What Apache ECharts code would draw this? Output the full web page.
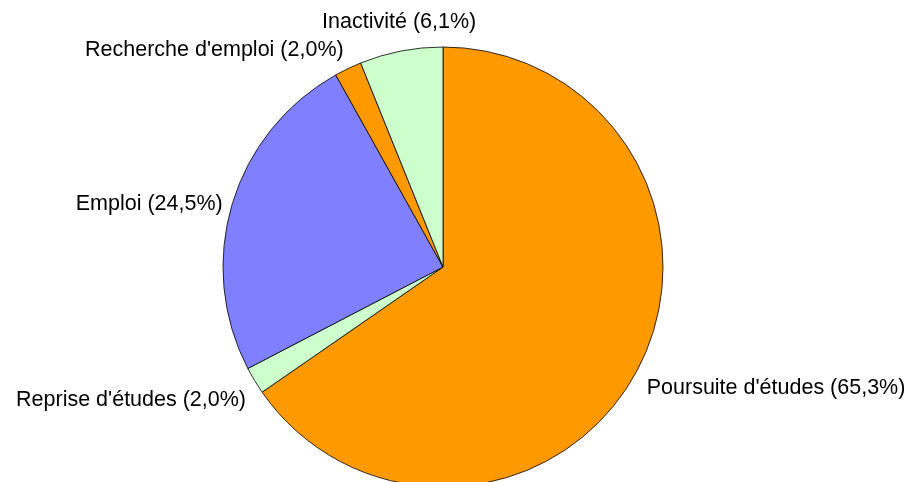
<!DOCTYPE html>
<html>
<head>
<meta charset="utf-8">
<script src="https://cdn.jsdelivr.net/npm/echarts@6/dist/echarts.min.js"></script>
<style>
  html, body { margin: 0; padding: 0; background: #fff; }
  #chart { width: 911px; height: 482px; }
</style>
</head>
<body>
<div id="chart"></div>
<script>
const categories = ["Poursuite d'études", "Reprise d'études", 'Emploi', "Recherche d'emploi", 'Inactivité']
const values = [65.3, 2.0, 24.5, 2.0, 6.1]
const colors = ['#ff9900', '#ccffcc', '#8080ff', '#ff9900', '#ccffcc']

const CX = 443
const CY = 267
const R = 220
const GAP = 10

const total = values.reduce((a, b) => a + b, 0)
// mid angle of each slice, degrees clockwise from 12 o'clock
const midAngles = []
let acc = 0
values.forEach((v) => {
  midAngles.push(((acc + v / 2) / total) * 360)
  acc += v
})

// alignment by octant (align, verticalAlign, extra dy), like the office chart does
const aligns = [
  ['center', 'bottom', -8], ['left', 'bottom', 0], ['left', 'middle', 3], ['left', 'top', 3],
  ['center', 'top', 8], ['right', 'top', 3], ['right', 'middle', 3], ['right', 'bottom', 2],
]

const chart = echarts.init(document.getElementById('chart'), null, { renderer: 'canvas' })

chart.setOption({
  backgroundColor: '#fff',
  animation: false,
  series: [
    {
      type: 'pie',
      center: [CX, CY],
      radius: R,
      startAngle: 90,
      clockwise: true,
      silent: true,
      data: categories.map((name, i) => ({
        name,
        value: values[i],
        itemStyle: { color: colors[i] },
      })),
      itemStyle: { borderColor: '#000', borderWidth: 0.8 },
      label: {
        show: true,
        position: 'outside',
        overflow: 'none',
        color: '#000',
        fontFamily: 'Liberation Sans, Arial, sans-serif',
        fontSize: 21.5,
        formatter: (p) => `${p.name} (${p.value.toFixed(1).replace('.', ',')}%)`,
      },
      labelLine: { show: false },
      labelLayout: (params) => {
        const th = (midAngles[params.dataIndex] * Math.PI) / 180
        const k = Math.round(midAngles[params.dataIndex] / 45) % 8
        return {
          x: CX + (R + GAP) * Math.sin(th),
          y: CY - (R + GAP) * Math.cos(th) + aligns[k][2],
          align: aligns[k][0],
          verticalAlign: aligns[k][1],
        }
      },
    },
  ],
})
</script>
</body>
</html>
